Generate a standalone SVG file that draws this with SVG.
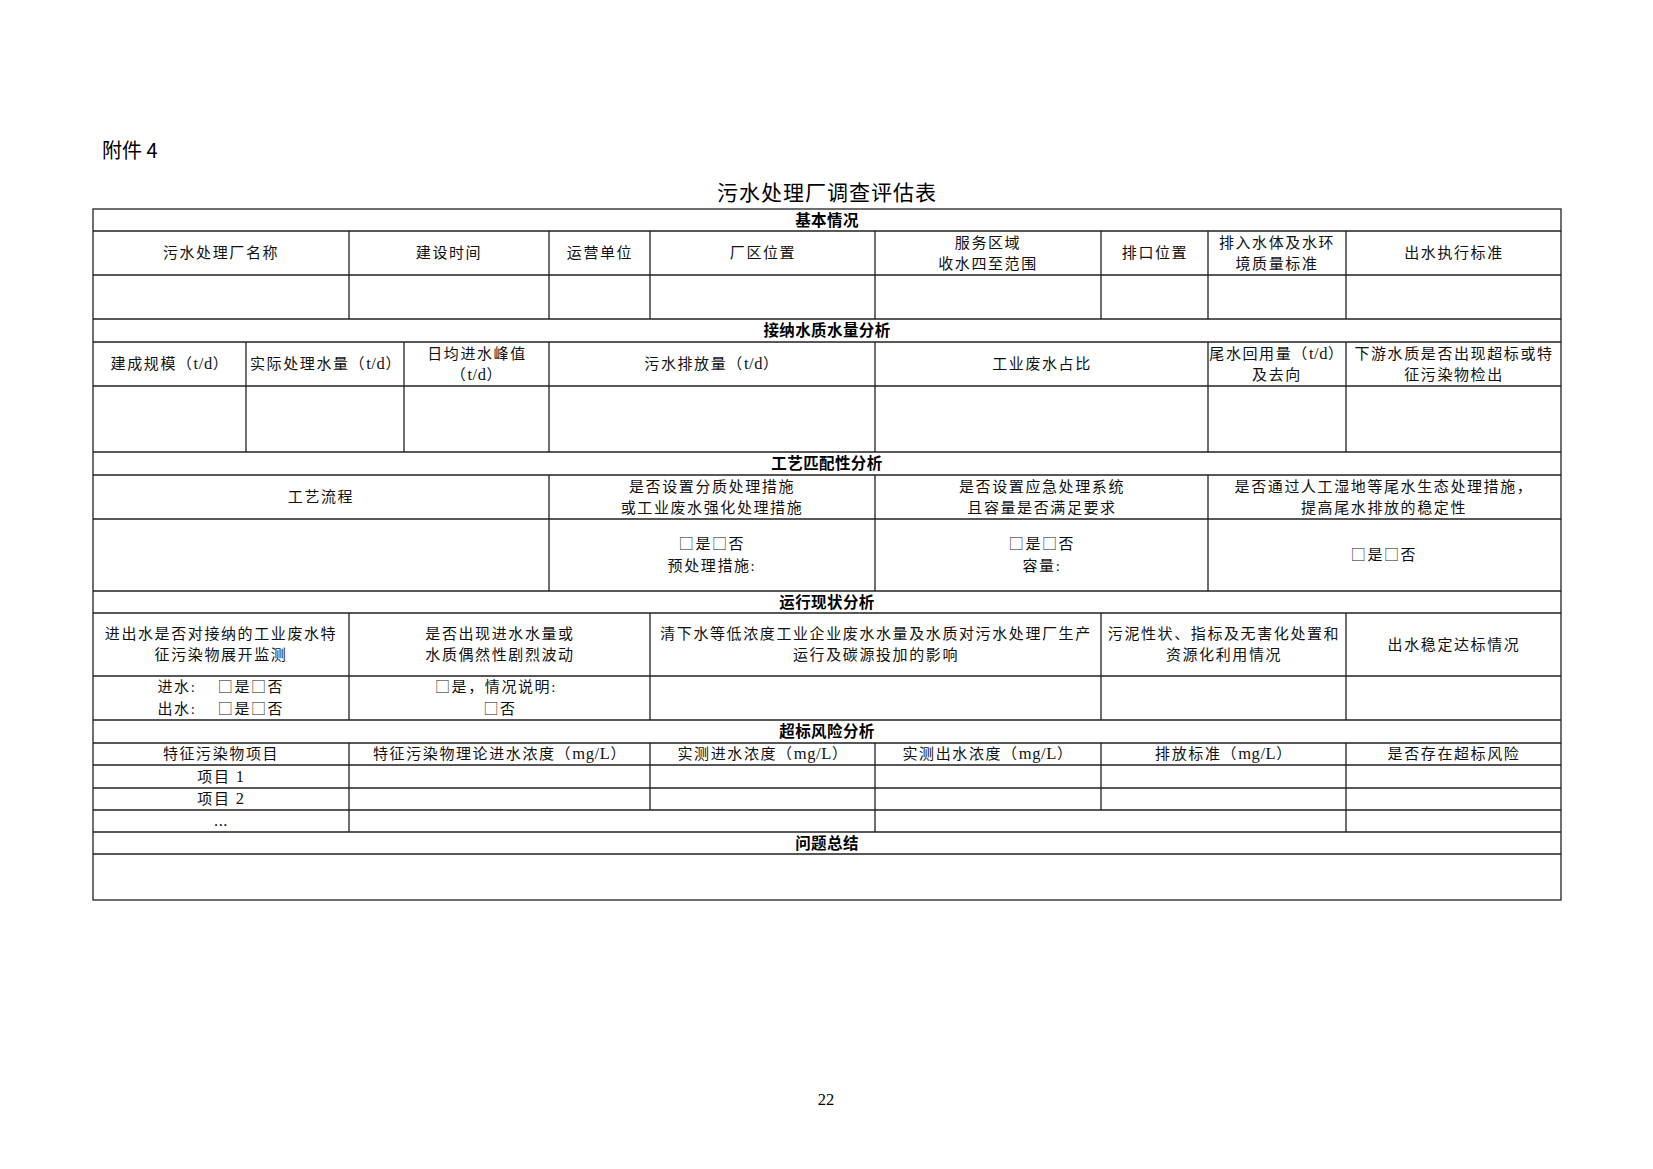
<svg xmlns="http://www.w3.org/2000/svg" width="1653" height="1169" viewBox="0 0 1653 1169">
<style>
.bg{fill:#fff}
.ln{fill:none;stroke:#222;stroke-width:1.3}
.t{font-family:"Liberation Serif","Noto Sans CJK SC",serif;font-size:15px;letter-spacing:1.6px;text-anchor:middle;fill:#111}
.l{font-size:16.5px;letter-spacing:0.6px}
.b{font-family:"Noto Sans CJK SC",sans-serif;font-weight:300}
.h{font-family:"Noto Sans CJK SC",sans-serif;font-size:15.5px;font-weight:bold;letter-spacing:0.4px;text-anchor:middle;fill:#000}
.title{font-family:"Noto Sans CJK SC",sans-serif;font-size:21px;letter-spacing:1px;text-anchor:middle;fill:#000}
.att{font-family:"Noto Sans CJK SC",sans-serif;font-size:20px;fill:#000}
.pg{font-family:"Liberation Serif",serif;font-size:16.5px;text-anchor:middle;fill:#000}
</style>
<rect class="bg" x="0" y="0" width="1653" height="1169"/>
<text class="att" x="102" y="158">附件 4</text>
<text class="title" x="827" y="200">污水处理厂调查评估表</text>

<g id="grid">
<rect class="ln" x="93" y="209" width="1468" height="691"/>
<path class="ln" d="M93 231H1561 M93 275H1561 M93 319H1561 M93 342H1561 M93 386H1561 M93 452H1561 M93 475H1561 M93 519H1561 M93 591H1561 M93 613H1561 M93 676H1561 M93 720H1561 M93 743H1561 M93 765H1561 M93 788H1561 M93 810H1561 M93 832H1561 M93 854H1561"/>
<path class="ln" d="M349 231V319 M549 231V319 M650 231V319 M875 231V319 M1101 231V319 M1208 231V319 M1346 231V319 M246 342V452 M404 342V452 M549 342V452 M875 342V452 M1208 342V452 M1346 342V452 M549 475V591 M875 475V591 M1208 475V591 M349 613V720 M650 613V720 M1101 613V720 M1346 613V720 M349 743V810 M650 743V810 M875 743V810 M1101 743V810 M1346 743V810 M349 810V832 M875 810V832 M1346 810V832"/>
</g>

<g id="basic">
<text class="h" x="827" y="226">基本情况</text>
<text class="t" x="221" y="258">污水处理厂名称</text>
<text class="t" x="449" y="258">建设时间</text>
<text class="t" x="600" y="258">运营单位</text>
<text class="t" x="763" y="258">厂区位置</text>
<text class="t" x="988" y="248">服务区域</text>
<text class="t" x="988" y="269">收水四至范围</text>
<text class="t" x="1155" y="258">排口位置</text>
<text class="t" x="1277" y="248">排入水体及水环</text>
<text class="t" x="1277" y="269">境质量标准</text>
<text class="t" x="1454" y="258">出水执行标准</text>
</g>

<g id="intake">
<text class="h" x="827" y="336">接纳水质水量分析</text>
<text class="t" x="170" y="369">建成规模（<tspan class="l">t/d</tspan>）</text>
<text class="t" x="326" y="369">实际处理水量（<tspan class="l">t/d</tspan>）</text>
<text class="t" x="477" y="359">日均进水峰值</text>
<text class="t" x="477" y="380">（<tspan class="l">t/d</tspan>）</text>
<text class="t" x="712" y="369">污水排放量（<tspan class="l">t/d</tspan>）</text>
<text class="t" x="1042" y="369">工业废水占比</text>
<text class="t" x="1277" y="359">尾水回用量（<tspan class="l">t/d</tspan>）</text>
<text class="t" x="1277" y="380">及去向</text>
<text class="t" x="1454" y="359">下游水质是否出现超标或特</text>
<text class="t" x="1454" y="380">征污染物检出</text>
</g>

<g id="process">
<text class="h" x="827" y="469">工艺匹配性分析</text>
<text class="t" x="321" y="502">工艺流程</text>
<text class="t" x="712" y="492">是否设置分质处理措施</text>
<text class="t" x="712" y="513">或工业废水强化处理措施</text>
<text class="t" x="1042" y="492">是否设置应急处理系统</text>
<text class="t" x="1042" y="513">且容量是否满足要求</text>
<text class="t" x="1384" y="492">是否通过人工湿地等尾水生态处理措施，</text>
<text class="t" x="1384" y="513">提高尾水排放的稳定性</text>
<text class="t" x="712" y="549"><tspan class="b">□</tspan>是<tspan class="b">□</tspan>否</text>
<text class="t" x="712" y="571">预处理措施:</text>
<text class="t" x="1042" y="549"><tspan class="b">□</tspan>是<tspan class="b">□</tspan>否</text>
<text class="t" x="1042" y="571">容量:</text>
<text class="t" x="1384" y="560"><tspan class="b">□</tspan>是<tspan class="b">□</tspan>否</text>
</g>

<g id="operation">
<text class="h" x="827" y="608">运行现状分析</text>
<text class="t" x="221" y="639">进出水是否对接纳的工业废水特</text>
<text class="t" x="221" y="660">征污染物展开监测</text>
<text class="t" x="500" y="639">是否出现进水水量或</text>
<text class="t" x="500" y="660">水质偶然性剧烈波动</text>
<text class="t" x="876" y="639">清下水等低浓度工业企业废水水量及水质对污水处理厂生产</text>
<text class="t" x="876" y="660">运行及碳源投加的影响</text>
<text class="t" x="1224" y="639">污泥性状、指标及无害化处置和</text>
<text class="t" x="1224" y="660">资源化利用情况</text>
<text class="t" x="1454" y="650">出水稳定达标情况</text>
<text class="t" x="177" y="692">进水:</text>
<text class="t" x="251" y="692"><tspan class="b">□</tspan>是<tspan class="b">□</tspan>否</text>
<text class="t" x="177" y="714">出水:</text>
<text class="t" x="251" y="714"><tspan class="b">□</tspan>是<tspan class="b">□</tspan>否</text>
<text class="t" x="496" y="692"><tspan class="b">□</tspan>是，情况说明:</text>
<text class="t" x="500" y="714"><tspan class="b">□</tspan>否</text>
</g>

<g id="risk">
<text class="h" x="827" y="737">超标风险分析</text>
<text class="t" x="221" y="759">特征污染物项目</text>
<text class="t" x="500" y="759">特征污染物理论进水浓度（<tspan class="l">mg/L</tspan>）</text>
<text class="t" x="763" y="759">实测进水浓度（<tspan class="l">mg/L</tspan>）</text>
<text class="t" x="988" y="759">实测出水浓度（<tspan class="l">mg/L</tspan>）</text>
<text class="t" x="1224" y="759">排放标准（<tspan class="l">mg/L</tspan>）</text>
<text class="t" x="1454" y="759">是否存在超标风险</text>
<text class="t" x="221" y="782">项目 <tspan class="l">1</tspan></text>
<text class="t" x="221" y="804">项目 <tspan class="l">2</tspan></text>
<text class="t" x="221" y="826"><tspan class="l">...</tspan></text>
</g>

<g id="summary">
<text class="h" x="827" y="849">问题总结</text>
</g>

<text class="pg" x="826" y="1105">22</text>
</svg>
